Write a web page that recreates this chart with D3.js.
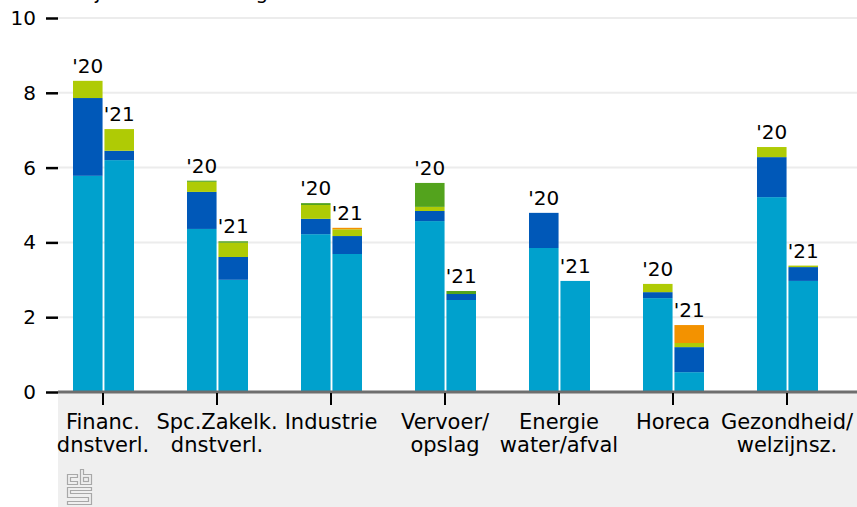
<!DOCTYPE html>
<html>
<head>
<meta charset="utf-8">
<script src="https://cdn.jsdelivr.net/npm/d3@7"></script>
<style>
  html, body { margin: 0; padding: 0; background: #fff; }
  svg { display: block; font-family: "DejaVu Sans", sans-serif; }
</style>
</head>
<body>
<div id="chart"></div>
<script>
// sectors, two years each
const sectors = [
  ["Financ.", "dnstverl."],
  ["Spc.Zakelk.", "dnstverl."],
  ["Industrie"],
  ["Vervoer/", "opslag"],
  ["Energie", "water/afval"],
  ["Horeca"],
  ["Gezondheid/", "welzijnsz."]
];
const years = ["'20", "'21"];
const yTicks = [0, 2, 4, 6, 8, 10];

// values per series, [sector][year]
const seriesCyan   = [[5.78, 6.20], [4.36, 3.00], [4.22, 3.69], [4.57, 2.46], [3.85, 2.97], [2.51, 0.53], [5.21, 2.97]];
const seriesBlue   = [[2.08, 0.25], [0.99, 0.61], [0.41, 0.48], [0.27, 0.16], [0.94, 0.00], [0.16, 0.67], [1.07, 0.37]];
const seriesLime   = [[0.46, 0.58], [0.27, 0.38], [0.37, 0.18], [0.11, 0.00], [0.00, 0.00], [0.22, 0.11], [0.27, 0.04]];
const seriesGreen  = [[0.00, 0.00], [0.03, 0.04], [0.05, 0.00], [0.64, 0.08], [0.00, 0.00], [0.00, 0.00], [0.00, 0.00]];
const seriesOrange = [[0.00, 0.00], [0.00, 0.00], [0.00, 0.04], [0.00, 0.00], [0.00, 0.00], [0.00, 0.48], [0.00, 0.00]];

const series = [
  { key: "cyan",   color: "#00a1cd", values: seriesCyan },
  { key: "blue",   color: "#0058b8", values: seriesBlue },
  { key: "lime",   color: "#afcb05", values: seriesLime },
  { key: "green",  color: "#53a31d", values: seriesGreen },
  { key: "orange", color: "#f39200", values: seriesOrange }
];

const width = 857, height = 507;
const plotLeft = 58, baseY = 392, topY = 18;

const svg = d3.select("#chart").append("svg")
  .attr("width", width)
  .attr("height", height);

// grey footer area under the axis
svg.append("rect")
  .attr("x", plotLeft).attr("y", baseY)
  .attr("width", width - plotLeft).attr("height", height - baseY)
  .attr("fill", "#efefef");

const y = d3.scaleLinear().domain([0, 10]).range([baseY, topY]);
const x0 = d3.scaleBand().domain(d3.range(sectors.length)).range([46, 844]);
const x1 = d3.scaleBand().domain(years).range([0, 61]).paddingInner(0.06);

// cropped title, only its descenders show
svg.append("text")
  .attr("x", 6).attr("y", -1)
  .attr("font-size", 20).attr("fill", "#000")
  .text("Aantal bij de NL-bevolking");

// gridlines
svg.append("g").selectAll("line")
  .data(yTicks.filter(d => d > 0))
  .join("line")
    .attr("x1", plotLeft).attr("x2", width)
    .attr("y1", d => y(d)).attr("y2", d => y(d))
    .attr("stroke", "#ececec").attr("stroke-width", 2);

// y axis: tick dashes + labels, no domain line
const yAxis = svg.append("g")
  .attr("transform", `translate(${plotLeft},0)`)
  .call(d3.axisLeft(y).tickValues(yTicks).tickSize(12).tickPadding(10));
yAxis.select(".domain").remove();
yAxis.selectAll(".tick line").attr("stroke", "#000").attr("stroke-width", 2.5);
yAxis.selectAll(".tick text").attr("font-size", 20).attr("fill", "#000")
  .attr("font-family", "DejaVu Sans, sans-serif");

// build stacked bars
const bars = [];
sectors.forEach((s, i) => {
  years.forEach((yr, j) => {
    let acc = 0;
    const segs = series.map(se => {
      const v = se.values[i][j];
      const seg = { y0: acc, y1: acc + v, color: se.color };
      acc += v;
      return seg;
    }).filter(sg => sg.y1 > sg.y0);
    bars.push({ i, yr, total: acc, segs });
  });
});

const barX = d => x0(d.i) + x0.bandwidth() / 2 - 30 + x1(d.yr);

const barG = svg.append("g").selectAll("g")
  .data(bars)
  .join("g")
    .attr("transform", d => `translate(${barX(d)},0)`);

barG.selectAll("rect")
  .data(d => d.segs)
  .join("rect")
    .attr("x", 0)
    .attr("width", x1.bandwidth())
    .attr("y", d => y(d.y1))
    .attr("height", d => y(d.y0) - y(d.y1))
    .attr("fill", d => d.color);

barG.append("text")
  .attr("x", x1.bandwidth() / 2)
  .attr("y", d => y(d.total) - 8)
  .attr("text-anchor", "middle")
  .attr("font-size", 20)
  .text(d => d.yr);

// x axis line
svg.append("line")
  .attr("x1", plotLeft).attr("x2", width)
  .attr("y1", baseY).attr("y2", baseY)
  .attr("stroke", "#6e6e6e").attr("stroke-width", 3);

// x ticks + multi-line category labels
const xt = svg.append("g").selectAll("g")
  .data(sectors)
  .join("g")
    .attr("transform", (d, i) => `translate(${x0(i) + x0.bandwidth() / 2},0)`);
xt.append("line")
  .attr("y1", baseY + 1).attr("y2", baseY + 13)
  .attr("stroke", "#000").attr("stroke-width", 2);
xt.append("text")
  .attr("text-anchor", "middle")
  .attr("font-size", 21)
  .selectAll("tspan")
  .data(d => d)
  .join("tspan")
    .attr("x", 0)
    .attr("y", (d, k) => 429 + k * 23)
    .text(d => d);

// cbs logo (approximation)
const logo = svg.append("g")
  .attr("transform", "translate(67,469)")
  .attr("fill", "none").attr("stroke", "#a8a8a8").attr("stroke-width", 1.2);
logo.append("path").attr("d", "M0.5,5.5 H10.5 V8.5 H3.5 V12.5 H10.5 V15.5 H0.5 Z");
logo.append("path").attr("d", "M13.5,0.5 H16.5 V5.5 H24.5 V15.5 H13.5 Z");
logo.append("rect").attr("x", 16.5).attr("y", 8.5).attr("width", 5).attr("height", 4);
logo.append("path").attr("d", "M0.5,18.5 H24.5 V21.5 H3.5 V24.5 H24.5 V35.5 H0.5 V32.5 H21.5 V28.5 H0.5 Z");
</script>
</body>
</html>
